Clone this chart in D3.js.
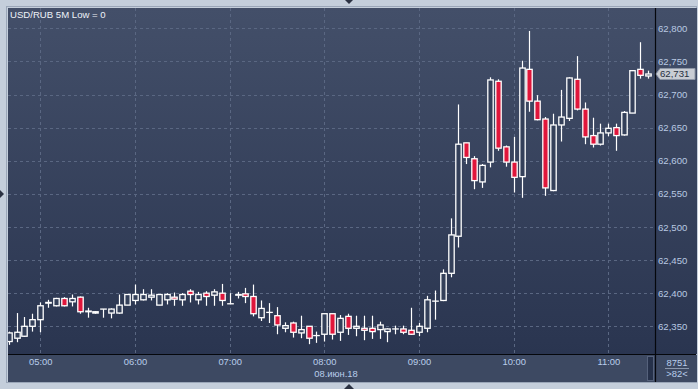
<!DOCTYPE html>
<html>
<head>
<meta charset="utf-8">
<script src="https://cdn.jsdelivr.net/npm/d3@7"></script>
<style>
  body { margin: 0; background: #c4cedb; }
  svg { display: block; }
  text { font-family: "Liberation Sans", Arial, sans-serif; }
</style>
</head>
<body>
<script>
var w = 698;
var h = 389;

// 5 minute candles, 08.06.2018, first bar 04:40
var startTime = new Date(2018, 5, 8, 4, 40);
var barMinutes = 5;

var open = [62.327,62.332,62.335,62.350,62.360,62.385,62.381,62.392,62.387,62.394,
  62.373,62.370,62.376,62.370,62.370,62.382,62.389,62.390,62.394,62.382,
  62.390,62.394,62.390,62.403,62.390,62.400,62.397,62.400,62.384,62.397,
  62.399,62.395,62.363,62.371,62.366,62.347,62.355,62.340,62.350,62.336,
  62.338,62.369,62.341,62.365,62.347,62.347,62.347,62.345,62.342,62.346,
  62.346,62.344,62.341,62.347,62.388,62.389,62.430,62.486,62.627,62.603,
  62.568,62.598,62.720,62.621,62.598,62.576,62.738,62.690,62.663,62.555,
  62.654,62.664,62.723,62.678,62.638,62.625,62.642,62.650,62.639,62.672,
  62.738,62.728];
var high = [62.342,62.370,62.364,62.369,62.386,62.390,62.393,62.394,62.398,62.395,
  62.378,62.373,62.376,62.377,62.398,62.398,62.413,62.406,62.406,62.398,
  62.400,62.401,62.400,62.406,62.402,62.403,62.406,62.414,62.400,62.402,
  62.408,62.413,62.389,62.385,62.379,62.356,62.357,62.366,62.350,62.342,
  62.369,62.369,62.367,62.369,62.366,62.366,62.366,62.357,62.347,62.351,
  62.351,62.378,62.355,62.396,62.404,62.436,62.513,62.685,62.627,62.607,
  62.595,62.726,62.723,62.623,62.636,62.751,62.796,62.699,62.666,62.671,
  62.707,62.726,62.758,62.688,62.665,62.656,62.656,62.656,62.675,62.737,
  62.779,62.736];
var low = [62.322,62.326,62.334,62.342,62.341,62.378,62.380,62.380,62.380,62.369,
  62.363,62.369,62.363,62.362,62.369,62.382,62.383,62.389,62.389,62.382,
  62.383,62.381,62.381,62.386,62.383,62.381,62.381,62.381,62.384,62.392,
  62.385,62.365,62.358,62.355,62.338,62.341,62.333,62.332,62.323,62.325,
  62.327,62.330,62.328,62.337,62.335,62.329,62.331,62.331,62.326,62.338,
  62.338,62.337,62.335,62.341,62.360,62.388,62.424,62.469,62.595,62.557,
  62.559,62.590,62.615,62.591,62.552,62.544,62.674,62.661,62.547,62.554,
  62.629,62.660,62.676,62.625,62.620,62.623,62.637,62.615,62.638,62.672,
  62.724,62.724];
var close = [62.340,62.341,62.350,62.360,62.381,62.386,62.392,62.381,62.392,62.372,
  62.372,62.372,62.376,62.376,62.382,62.398,62.398,62.398,62.397,62.398,
  62.398,62.391,62.398,62.398,62.398,62.395,62.402,62.389,62.384,62.398,
  62.395,62.369,62.377,62.371,62.352,62.351,62.341,62.345,62.332,62.336,
  62.369,62.338,62.362,62.347,62.350,62.344,62.342,62.352,62.346,62.346,
  62.341,62.338,62.350,62.390,62.388,62.430,62.488,62.625,62.605,62.570,
  62.593,62.722,62.619,62.598,62.575,62.740,62.690,62.662,62.559,62.654,
  62.666,62.725,62.678,62.636,62.625,62.642,62.649,62.638,62.673,62.736,
  62.729,62.731];

var priceTicks = [62.35, 62.40, 62.45, 62.50, 62.55, 62.60, 62.65, 62.70, 62.75, 62.80];
var title = "USD/RUB 5M Low = 0";
var dateLabel = "08.июн.18";
var lastPrice = 62.731;
var counterTop = "8751";
var counterBottom = ">82<";

var candles = open.map(function(d, i) {
  return {
    t: new Date(startTime.getTime() + i * barMinutes * 60000),
    o: d, h: high[i], l: low[i], c: close[i]
  };
});

var plot = { x0: 8, y0: 8, x1: 655, y1: 354 };

var x = d3.scaleTime()
  .domain([candles[0].t, candles[candles.length - 1].t])
  .range([8.7, 647.8]);
var y = d3.scaleLinear()
  .domain([62.35, 62.80])
  .range([326.3, 28.3]);

var fmt = function(v) { return d3.format(".3f")(v).replace(".", ","); };

var svg = d3.select("body")
  .append("svg")
  .attr("width", w)
  .attr("height", h);

var defs = svg.append("defs");
var grad = defs.append("linearGradient")
  .attr("id", "bg")
  .attr("x1", 0).attr("y1", 0).attr("x2", 0).attr("y2", 1);
grad.append("stop").attr("offset", "0%").attr("stop-color", "#434f69");
grad.append("stop").attr("offset", "100%").attr("stop-color", "#2a3550");

defs.append("clipPath").attr("id", "clip")
  .append("rect")
  .attr("x", plot.x0).attr("y", plot.y0)
  .attr("width", plot.x1 - plot.x0).attr("height", plot.y1 - plot.y0);

// frame
svg.append("rect")
  .attr("x", 0).attr("y", 0).attr("width", w).attr("height", h)
  .attr("fill", "#c4cedb");
svg.append("rect")
  .attr("x", 6.5).attr("y", 6.5).attr("width", 690).attr("height", 376)
  .attr("fill", "none").attr("stroke", "#9aa6b8");
svg.append("rect")
  .attr("x", plot.x0).attr("y", plot.y0)
  .attr("width", 689).attr("height", plot.y1 - plot.y0)
  .attr("fill", "url(#bg)");
svg.append("rect")
  .attr("x", plot.x0).attr("y", 355)
  .attr("width", 689).attr("height", 27)
  .attr("fill", "#3d4962");

// grid
var grid = svg.append("g");
grid.selectAll(".hg")
  .data(priceTicks)
  .enter()
  .append("line")
  .attr("x1", plot.x0).attr("x2", plot.x1)
  .attr("y1", function(d) { return Math.round(y(d)) + 0.5; })
  .attr("y2", function(d) { return Math.round(y(d)) + 0.5; })
  .attr("stroke", "#5a6782")
  .attr("stroke-dasharray", "3,3");

var hours = x.ticks(d3.timeHour.every(1));
grid.selectAll(".vg")
  .data(hours)
  .enter()
  .append("line")
  .attr("x1", function(d) { return Math.round(x(d)) + 0.5; })
  .attr("x2", function(d) { return Math.round(x(d)) + 0.5; })
  .attr("y1", plot.y0).attr("y2", plot.y1)
  .attr("stroke", "#5a6782")
  .attr("stroke-dasharray", "3,3");

// candles
var bw = 5.4;
var cg = svg.append("g").attr("clip-path", "url(#clip)");
var bars = cg.selectAll("g.c")
  .data(candles)
  .enter()
  .append("g");

bars.append("line")
  .attr("x1", function(d) { return Math.round(x(d.t)) + 0.5; })
  .attr("x2", function(d) { return Math.round(x(d.t)) + 0.5; })
  .attr("y1", function(d) { return y(d.h); })
  .attr("y2", function(d) { return y(d.l); })
  .attr("stroke", "#ffffff")
  .attr("stroke-width", 1.2);

bars.append("rect")
  .attr("x", function(d) { return Math.round(x(d.t)) + 0.5 - bw / 2; })
  .attr("y", function(d) { return y(Math.max(d.o, d.c)); })
  .attr("width", bw)
  .attr("height", function(d) { return Math.max(0.01, Math.abs(y(d.o) - y(d.c))); })
  .attr("fill", function(d) { return d.c < d.o ? "#e0163b" : "#34405a"; })
  .attr("stroke", "#ffffff")
  .attr("stroke-width", 1.3);

// separators
svg.append("line")
  .attr("x1", 655.5).attr("x2", 655.5).attr("y1", plot.y0).attr("y2", 382)
  .attr("stroke", "#05070c").attr("stroke-width", 1.2);
svg.append("line")
  .attr("x1", plot.x0).attr("x2", 696).attr("y1", 354.5).attr("y2", 354.5)
  .attr("stroke", "#05070c").attr("stroke-width", 1.2);

// y axis
var yAxis = d3.axisRight(y)
  .tickValues(priceTicks)
  .tickFormat(fmt)
  .tickSize(0)
  .tickPadding(0);
var ya = svg.append("g")
  .attr("transform", "translate(658,0)")
  .call(yAxis);
ya.select(".domain").remove();
ya.selectAll("text")
  .attr("fill", "#b9c9e2")
  .attr("font-size", "9.6px")
  .attr("font-family", "'Liberation Sans', Arial, sans-serif");

// x axis
var xAxis = d3.axisBottom(x)
  .ticks(d3.timeHour.every(1))
  .tickFormat(d3.timeFormat("%H:%M"))
  .tickSize(0)
  .tickPadding(0);
var xa = svg.append("g")
  .attr("transform", "translate(0,358)")
  .call(xAxis);
xa.select(".domain").remove();
xa.selectAll("text")
  .attr("fill", "#b9cdeb")
  .attr("font-size", "9.4px")
  .attr("font-family", "'Liberation Sans', Arial, sans-serif");

svg.append("text")
  .attr("x", 336).attr("y", 377)
  .attr("text-anchor", "middle")
  .attr("font-size", "9.4px")
  .attr("fill", "#b9cdeb")
  .text(dateLabel);

// scrollbar thumb
svg.append("rect")
  .attr("x", 647.5).attr("y", 356.5).attr("width", 6).attr("height", 24)
  .attr("fill", "#26314a").attr("stroke", "#56627c");

// counter box
svg.append("text")
  .attr("x", 677).attr("y", 366)
  .attr("text-anchor", "middle")
  .attr("font-size", "9.4px")
  .attr("fill", "#b9cdeb")
  .text(counterTop);
svg.append("line")
  .attr("x1", 665).attr("x2", 689).attr("y1", 368.5).attr("y2", 368.5)
  .attr("stroke", "#8a97ad");
svg.append("text")
  .attr("x", 677).attr("y", 377)
  .attr("text-anchor", "middle")
  .attr("font-size", "9.4px")
  .attr("fill", "#b9cdeb")
  .text(counterBottom);

// last price marker
var ly = y(lastPrice);
svg.append("path")
  .attr("d", "M656," + ly + " L660," + (ly - 5.5) + " L695," + (ly - 5.5) +
    " L695," + (ly + 5.5) + " L660," + (ly + 5.5) + " Z")
  .attr("fill", "#c9cdd4")
  .attr("stroke", "#8d96a6");
svg.append("text")
  .attr("x", 660).attr("y", ly + 3.4)
  .attr("font-size", "9.6px")
  .attr("fill", "#27303f")
  .text(fmt(lastPrice));

// title
svg.append("text")
  .attr("x", 10).attr("y", 18)
  .attr("font-size", "9.6px")
  .attr("fill", "#eef2f8")
  .text(title);

// splitter arrows
svg.append("path").attr("d", "M345,0 L353,0 L349,4 Z").attr("fill", "#2a3142");
svg.append("path").attr("d", "M349,384 L354,389 L344,389 Z").attr("fill", "#2a3142");
svg.append("path").attr("d", "M0,190 L4,194 L0,198 Z").attr("fill", "#2a3142");
</script>
</body>
</html>
